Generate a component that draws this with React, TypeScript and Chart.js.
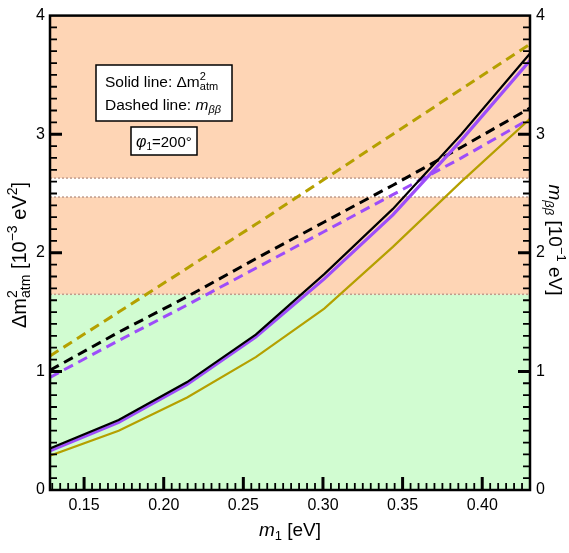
import React, { useEffect, useRef } from "react";
import { Chart, registerables } from "chart.js";

Chart.register(...registerables);

// ---- data ----
const m1Values = [0.1286, 0.1717, 0.2147, 0.2578, 0.3008, 0.3439, 0.3869, 0.43];
const dmAtmBlack = [0.35, 0.59, 0.91, 1.31, 1.82, 2.37, 3.0, 3.68];
const dmAtmPurple = [0.33, 0.57, 0.89, 1.29, 1.78, 2.32, 2.95, 3.62];
const dmAtmOlive = [0.29, 0.5, 0.78, 1.12, 1.53, 2.05, 2.6, 3.13];
const mbbBlack = [1.01, 1.33, 1.63, 1.95, 2.26, 2.57, 2.89, 3.22];
const mbbPurple = [0.95, 1.26, 1.56, 1.87, 2.18, 2.49, 2.8, 3.13];
const mbbOlive = [1.13, 1.5, 1.87, 2.24, 2.62, 3.0, 3.38, 3.76];
const xTickValues = [0.15, 0.2, 0.25, 0.3, 0.35, 0.4];
const yTickValues = [0, 1, 2, 3, 4];
const greenBandTop = 1.65;
const whiteBandLow = 2.47;
const whiteBandHigh = 2.63;
const xMin = 0.1286;
const xMax = 0.43;

const FONT = '"Liberation Sans", Arial, Helvetica, sans-serif';
const BLACK = "#000000";
const PURPLE = "#9d4dfa";
const OLIVE = "#b5a000";

type Seg = { t: string; size: number; italic?: boolean; dy?: number; stack?: boolean };

function fontOf(s: Seg) {
  return `${s.italic ? "italic " : ""}${s.size}px ${FONT}`;
}

function layoutRich(ctx: CanvasRenderingContext2D, segs: Seg[]) {
  let x = 0;
  let prevStart = 0;
  let prevW = 0;
  const items: (Seg & { x: number })[] = [];
  for (const s of segs) {
    ctx.font = fontOf(s);
    const w = ctx.measureText(s.t).width;
    if (s.stack) {
      items.push({ ...s, x: prevStart });
      prevW = Math.max(prevW, w);
      x = prevStart + prevW;
    } else {
      items.push({ ...s, x });
      prevStart = x;
      prevW = w;
      x += w;
    }
  }
  return { items, width: x };
}

function drawRich(
  ctx: CanvasRenderingContext2D,
  segs: Seg[],
  x: number,
  y: number,
  rotation: number,
  align: "left" | "center"
) {
  const { items, width } = layoutRich(ctx, segs);
  ctx.save();
  ctx.translate(x, y);
  ctx.rotate(rotation);
  const off = align === "center" ? -width / 2 : 0;
  ctx.fillStyle = "#000";
  ctx.textBaseline = "alphabetic";
  ctx.textAlign = "left";
  for (const it of items) {
    ctx.font = fontOf(it);
    ctx.fillText(it.t, off + it.x, it.dy || 0);
  }
  ctx.restore();
}

const decorPlugin = {
  id: "decor",
  beforeDatasetsDraw(chart: any) {
    const { ctx, chartArea } = chart;
    const y = chart.scales.y;
    const { left, right, top, bottom } = chartArea;
    const yG = y.getPixelForValue(greenBandTop);
    const yL = y.getPixelForValue(whiteBandLow);
    const yH = y.getPixelForValue(whiteBandHigh);
    ctx.save();
    ctx.fillStyle = "#d1fcd1";
    ctx.fillRect(left, yG, right - left, bottom - yG);
    ctx.fillStyle = "#fed5b5";
    ctx.fillRect(left, yL, right - left, yG - yL);
    ctx.fillRect(left, top, right - left, yH - top);
    ctx.strokeStyle = "#c09c8c";
    ctx.lineWidth = 1.5;
    ctx.setLineDash([2, 2]);
    for (const yy of [yG, yL, yH]) {
      ctx.beginPath();
      ctx.moveTo(left, yy);
      ctx.lineTo(right, yy);
      ctx.stroke();
    }
    ctx.restore();
  },
  afterDatasetsDraw(chart: any) {
    const { ctx, chartArea } = chart;
    const { left, right, top, bottom } = chartArea;
    const x = chart.scales.x;
    const y = chart.scales.y;
    ctx.save();
    ctx.strokeStyle = "#000";
    for (let k = 0; k <= 40; k++) {
      const v = k / 10;
      const major = k % 10 === 0;
      const py = y.getPixelForValue(v);
      if (py < top + 1 || py > bottom - 1) continue;
      ctx.lineWidth = major ? 3 : 1.8;
      const len = major ? 12 : 7;
      ctx.beginPath();
      ctx.moveTo(left, py);
      ctx.lineTo(left + len, py);
      ctx.moveTo(right, py);
      ctx.lineTo(right - len, py);
      ctx.stroke();
    }
    for (let k = 20; k <= 90; k++) {
      const v = k * 0.005;
      const px = x.getPixelForValue(v);
      if (px < left + 2 || px > right - 2) continue;
      const major = k % 10 === 0;
      ctx.lineWidth = major ? 3 : 1.8;
      const len = major ? 13 : 7;
      ctx.beginPath();
      ctx.moveTo(px, bottom);
      ctx.lineTo(px, bottom - len);
      ctx.stroke();
    }
    ctx.lineWidth = 2.5;
    ctx.setLineDash([]);
    ctx.strokeRect(left, top, right - left, bottom - top);
    ctx.restore();
  },
  afterDraw(chart: any) {
    const { ctx, chartArea } = chart;
    const { left, right } = chartArea;
    drawRich(
      ctx,
      [
        { t: "Δm", size: 20 },
        { t: "2", size: 14, dy: -9 },
        { t: "atm", size: 14, dy: 4, stack: true },
        { t: " [10", size: 20 },
        { t: "−3", size: 14, dy: -9 },
        { t: " eV", size: 20 },
        { t: "2", size: 14, dy: -9 },
        { t: "]", size: 20 },
      ],
      26,
      255,
      -Math.PI / 2,
      "center"
    );
    drawRich(
      ctx,
      [
        { t: "m", size: 19, italic: true },
        { t: "ββ", size: 13, italic: true, dy: 4 },
        { t: " [10", size: 19 },
        { t: "−1", size: 13, dy: -8 },
        { t: " eV]", size: 19 },
      ],
      549,
      240,
      Math.PI / 2,
      "center"
    );
    drawRich(
      ctx,
      [
        { t: "m", size: 19, italic: true },
        { t: "1", size: 13, dy: 4 },
        { t: " [eV]", size: 19 },
      ],
      (left + right) / 2,
      536,
      0,
      "center"
    );
    ctx.save();
    ctx.fillStyle = "#fff";
    ctx.strokeStyle = "#000";
    ctx.lineWidth = 1.5;
    ctx.fillRect(96, 65, 136, 56);
    ctx.strokeRect(96, 65, 136, 56);
    ctx.fillRect(131, 127, 66, 28);
    ctx.strokeRect(131, 127, 66, 28);
    ctx.restore();
    drawRich(
      ctx,
      [
        { t: "Solid line: Δm", size: 15.5 },
        { t: "2", size: 11, dy: -7 },
        { t: "atm", size: 11, dy: 3, stack: true },
      ],
      105,
      87,
      0,
      "left"
    );
    drawRich(
      ctx,
      [
        { t: "Dashed line: ", size: 15.5 },
        { t: "m", size: 15.5, italic: true },
        { t: "ββ", size: 11, italic: true, dy: 3 },
      ],
      105,
      110,
      0,
      "left"
    );
    drawRich(
      ctx,
      [
        { t: "φ", size: 16, italic: true },
        { t: "1", size: 10, dy: 3 },
        { t: "=200°", size: 15 },
      ],
      136,
      147,
      0,
      "left"
    );
  },
};

function pts(vals: number[]) {
  return m1Values.map((m, i) => ({ x: m, y: vals[i] }));
}

export default function App() {
  const ref = useRef<HTMLCanvasElement | null>(null);
  useEffect(() => {
    if (!ref.current) return;
    const solid = (label: string, vals: number[], color: string, w: number) => ({
      label,
      data: pts(vals),
      borderColor: color,
      borderWidth: w,
      pointRadius: 0,
      tension: 0,
      fill: false,
    });
    const dashed = (label: string, vals: number[], color: string) => ({
      label,
      data: pts(vals),
      borderColor: color,
      borderWidth: 3,
      borderDash: [10, 6],
      pointRadius: 0,
      tension: 0,
      fill: false,
    });
    const chart = new Chart(ref.current, {
      type: "line",
      data: {
        datasets: [
          solid("dm black", dmAtmBlack, BLACK, 2.2),
          solid("dm purple", dmAtmPurple, PURPLE, 3.2),
          solid("dm olive", dmAtmOlive, OLIVE, 2.2),
          dashed("mbb black", mbbBlack, BLACK),
          dashed("mbb purple", mbbPurple, PURPLE),
          dashed("mbb olive", mbbOlive, OLIVE),
        ] as any,
      },
      options: {
        animation: false,
        responsive: false,
        devicePixelRatio: 1,
        layout: { padding: { top: 9, left: 0, right: 0, bottom: 0 } },
        plugins: { legend: { display: false }, tooltip: { enabled: false } },
        scales: {
          x: {
            type: "linear",
            min: xMin,
            max: xMax,
            grid: { display: false, drawTicks: false },
            border: { display: false },
            afterBuildTicks: (s: any) => {
              s.ticks = xTickValues.map((v) => ({ value: v }));
            },
            afterFit: (s: any) => {
              s.height = 63;
            },
            ticks: {
              padding: 6,
              color: "#000",
              font: { family: FONT, size: 16 },
              callback: (v: any) => Number(v).toFixed(2),
              maxRotation: 0,
            },
          },
          y: {
            type: "linear",
            position: "left",
            min: 0,
            max: 4,
            grid: { display: false, drawTicks: false },
            border: { display: false },
            afterBuildTicks: (s: any) => {
              s.ticks = yTickValues.map((v) => ({ value: v }));
            },
            afterFit: (s: any) => {
              s.width = 50;
            },
            ticks: {
              padding: 5,
              color: "#000",
              font: { family: FONT, size: 16 },
              callback: (v: any) => String(v),
            },
          },
          y2: {
            type: "linear",
            position: "right",
            min: 0,
            max: 4,
            grid: { display: false, drawTicks: false },
            border: { display: false },
            afterBuildTicks: (s: any) => {
              s.ticks = yTickValues.map((v) => ({ value: v }));
            },
            afterFit: (s: any) => {
              s.width = 39;
            },
            ticks: {
              padding: 6,
              color: "#000",
              font: { family: FONT, size: 16 },
              callback: (v: any) => String(v),
            },
          },
        },
      } as any,
      plugins: [decorPlugin],
    });
    return () => chart.destroy();
  }, []);
  return (
    <div style={{ position: "fixed", left: 0, top: 0, width: 569, height: 553, background: "#fff" }}>
      <canvas ref={ref} width={569} height={553} style={{ display: "block" }} />
    </div>
  );
}
